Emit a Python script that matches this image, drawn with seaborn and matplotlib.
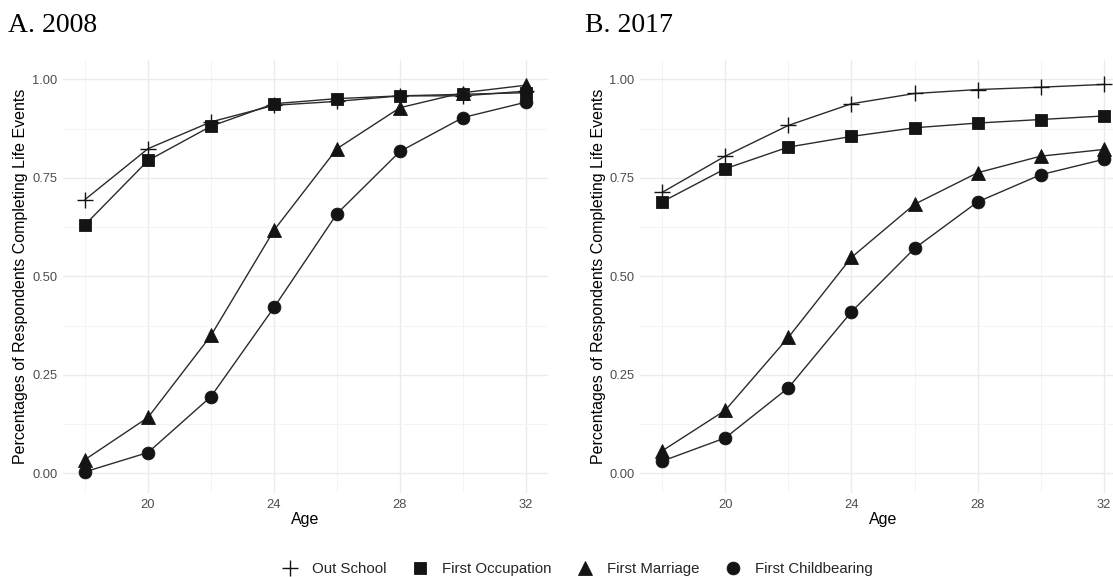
import matplotlib
matplotlib.use("Agg")
import matplotlib.pyplot as plt
from matplotlib.lines import Line2D
from matplotlib.ticker import MultipleLocator, FormatStrFormatter
import seaborn as sns
import pandas as pd

# Ages at which completion shares were measured
ages = [18, 20, 22, 24, 26, 28, 30, 32]

# Life events, in legend order
events = ["Out School", "First Occupation", "First Marriage", "First Childbearing"]

# Share of respondents who completed each event by age, 2008 survey
out_school_2008 = [0.695, 0.824, 0.892, 0.934, 0.944, 0.958, 0.958, 0.970]
occupation_2008 = [0.631, 0.794, 0.881, 0.938, 0.951, 0.958, 0.962, 0.966]
marriage_2008 = [0.035, 0.142, 0.350, 0.617, 0.824, 0.928, 0.966, 0.985]
childbearing_2008 = [0.004, 0.053, 0.195, 0.421, 0.659, 0.817, 0.903, 0.942]

# Share of respondents who completed each event by age, 2017 survey
out_school_2017 = [0.713, 0.805, 0.883, 0.938, 0.964, 0.974, 0.980, 0.987]
occupation_2017 = [0.689, 0.773, 0.828, 0.855, 0.877, 0.889, 0.898, 0.907]
marriage_2017 = [0.057, 0.160, 0.345, 0.548, 0.683, 0.763, 0.805, 0.822]
childbearing_2017 = [0.031, 0.090, 0.217, 0.410, 0.571, 0.689, 0.758, 0.797]

panel_titles = ["A. 2008", "B. 2017"]
y_ticks = [0.00, 0.25, 0.50, 0.75, 1.00]
x_ticks = [20, 24, 28, 32]


def long_frame(series):
    rows = []
    for event, values in zip(events, series):
        for age, v in zip(ages, values):
            rows.append({"Age": age, "Share": v, "Event": event})
    return pd.DataFrame(rows)


frames = [
    long_frame([out_school_2008, occupation_2008, marriage_2008, childbearing_2008]),
    long_frame([out_school_2017, occupation_2017, marriage_2017, childbearing_2017]),
]

sns.set_theme(style="white")
plt.rcParams["font.family"] = ["Liberation Sans", "DejaVu Sans"]

marker_style = {
    "Out School": dict(marker="+", markersize=12, markeredgewidth=1.0),
    "First Occupation": dict(marker="s", markersize=8.6, markeredgewidth=0.6),
    "First Marriage": dict(marker="^", markersize=10.5, markeredgewidth=0.6),
    "First Childbearing": dict(marker="o", markersize=9.2, markeredgewidth=0.6),
}
ink = "#141414"
line_color = "#2b2b2b"

W, H = 1113, 577
fig = plt.figure(figsize=(W / 100, H / 100), dpi=100)
panel_top, panel_bottom = 60, 492.7
axes = [
    fig.add_axes([63 / W, 1 - panel_bottom / H, 485 / W, (panel_bottom - panel_top) / H]),
    fig.add_axes([640 / W, 1 - panel_bottom / H, 486 / W, (panel_bottom - panel_top) / H]),
]

for ax, df, title, lab_x, title_x in zip(axes, frames, panel_titles,
                                         [-0.072, -0.070], [8, 585]):
    ax.set_facecolor("white")
    for event in events:
        sub = df[df["Event"] == event]
        sns.lineplot(data=sub, x="Age", y="Share", ax=ax, color=line_color,
                     linewidth=1.0, markerfacecolor=ink, markeredgecolor=ink,
                     legend=False, zorder=3, **marker_style[event])

    ax.set_xlim(17.3, 32.7)
    ax.set_ylim(-0.049, 1.049)
    ax.xaxis.set_major_locator(plt.FixedLocator(x_ticks))
    ax.xaxis.set_minor_locator(MultipleLocator(2))
    ax.yaxis.set_major_locator(plt.FixedLocator(y_ticks))
    ax.yaxis.set_minor_locator(MultipleLocator(0.125))
    ax.yaxis.set_major_formatter(FormatStrFormatter("%.2f"))
    ax.grid(which="major", color="#ebebeb", linewidth=1.0, zorder=0)
    ax.grid(which="minor", color="#f3f3f3", linewidth=0.6, zorder=0)
    ax.set_axisbelow(True)
    for s in ax.spines.values():
        s.set_visible(False)
    ax.tick_params(which="both", length=0)
    ax.tick_params(axis="x", pad=4.5, labelsize=9.3, labelcolor="#4d4d4d")
    ax.tick_params(axis="y", pad=3.8, labelsize=9.3, labelcolor="#4d4d4d")
    ax.set_xlabel("Age", fontsize=11.5, color="black")
    ax.set_ylabel("Percentages of Respondents Completing Life Events",
                  fontsize=11.5, color="black")
    ax.xaxis.set_label_coords(0.5, -0.045)
    ax.yaxis.set_label_coords(lab_x, 0.5)
    fig.text(title_x / W, 1 - 25 / H, title, family="Liberation Serif",
             fontsize=20, va="center", ha="left", color="black")

handles = [Line2D([], [], linestyle="none", color=ink, markerfacecolor=ink,
                  markeredgecolor=ink, **marker_style[e]) for e in events]
fig.legend(handles, events, loc="center", bbox_to_anchor=(576 / W, 1 - 569 / H),
           ncol=4, frameon=False, fontsize=10.8, handlelength=1.4,
           handletextpad=0.8, columnspacing=1.5, borderaxespad=0)

fig.savefig("out.png", dpi=100, facecolor="white")
